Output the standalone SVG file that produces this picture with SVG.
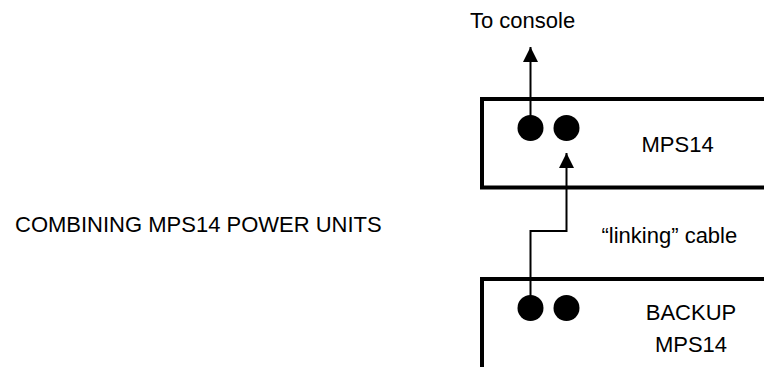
<svg xmlns="http://www.w3.org/2000/svg" width="764" height="367" viewBox="0 0 764 367">
<style>
text{font-family:"Liberation Sans",Arial,sans-serif;font-size:22px;fill:#000}
.box{fill:none;stroke:#000;stroke-width:4}
.wire{fill:none;stroke:#000;stroke-width:2}
.dot{fill:#000}
</style>
<defs>
<marker id="ah" markerUnits="userSpaceOnUse" markerWidth="16" markerHeight="16" refX="15" refY="7.5" orient="auto">
<path d="M0,0 L15,7.5 L0,15 Z" fill="#000"/>
</marker>
</defs>
<rect width="764" height="367" fill="#fff"/>
<g id="title">
<text x="15" y="232">COMBINING MPS14 POWER UNITS</text>
</g>
<g id="console">
<text x="470" y="28">To console</text>
</g>
<g id="mps14">
<path class="box" d="M768,99 H482 V187.5 H768"/>
<circle class="dot" cx="530.5" cy="128" r="13"/>
<circle class="dot" cx="566.5" cy="128" r="13"/>
<text x="641.5" y="152">MPS14</text>
</g>
<g id="backup">
<path class="box" d="M768,279 H482 V370"/>
<circle class="dot" cx="530.5" cy="308" r="13"/>
<circle class="dot" cx="566.5" cy="308" r="13"/>
<text x="691" y="320" text-anchor="middle">BACKUP</text>
<text x="691" y="352" text-anchor="middle">MPS14</text>
</g>
<g id="connectors">
<path class="wire" d="M530.5,120 V47" marker-end="url(#ah)"/>
<path class="wire" d="M530.5,298 V231 H566.5 V153" marker-end="url(#ah)"/>
<text x="601.5" y="243">“linking” cable</text>
</g>
</svg>
